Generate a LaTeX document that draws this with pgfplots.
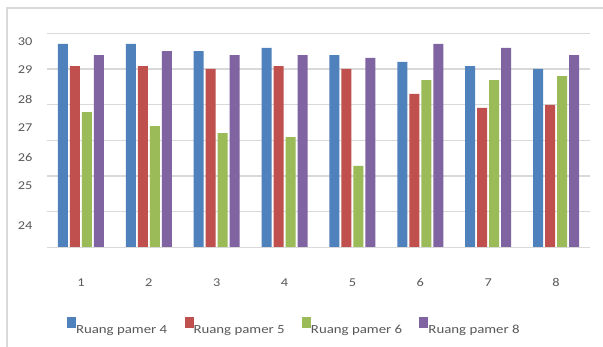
\documentclass[border=0pt]{standalone}
\usepackage{pgfplots}
\pgfplotsset{compat=1.18}
\usepackage{fontspec}
\setmainfont{Carlito}[FakeStretch=1.2]

\definecolor{rp4}{HTML}{4F81BD}
\definecolor{rp5}{HTML}{C0504D}
\definecolor{rp6}{HTML}{9BBB59}
\definecolor{rp8}{HTML}{8064A2}
\definecolor{gridgray}{HTML}{D9D9D9}
\definecolor{txtgray}{HTML}{595959}

\pgfplotsset{
  sq/.style={legend image code/.code={\fill (0bp,2bp) rectangle (9bp,13bp);}},
}

\begin{document}
\begin{tikzpicture}
\path[use as bounding box] (0,0) rectangle (603bp,347bp);
\fill[white] (0,0) rectangle (603bp,347bp);
\draw[gridgray, line width=1.2bp] (7bp,0) -- (7bp,339bp) -- (603bp,339bp);
\begin{axis}[
  at={(47bp,99.7bp)}, anchor=south west,
  scale only axis, width=543bp, height=214bp,
  xmin=0.5, xmax=8.5, ymin=24, ymax=30,
  axis line style={draw=none},
  major tick length=0pt,
  ytick={24,25,26,27,28,29,30}, yticklabels={},
  ymajorgrids, grid style={gridgray, line width=1.2bp},
  extra y ticks={29.76,28.99,28.15,27.35,26.53,25.73,24.61},
  extra y tick labels={30,29,28,27,26,25,24},
  extra y tick style={grid=none, yticklabel style={anchor=east, xshift=-11bp}},
  xtick={1,2,3,4,5,6,7,8},
  xticklabels={1,2,3,4,5,6,7,8},
  xticklabel style={yshift=-28bp},
  tick label style={font=\fontsize{12}{14}\selectfont, text=txtgray},
  legend columns=4,
  legend style={draw=none, fill=none, at={(0.031,-0.372)}, anchor=west,
    font=\fontsize{12.4}{14}\selectfont, text=txtgray,
    /tikz/every even column/.append style={column sep=15.3bp},
    /tikz/every odd column/.append style={column sep=-2bp}},
]
\addplot[ybar, fill=rp4, draw=none, bar width=0.147, bar shift=-0.265, sq]
  coordinates {(1,29.70) (2,29.70) (3,29.50) (4,29.59) (5,29.39) (6,29.20) (7,29.08) (8,29.00)};
\addplot[ybar, fill=rp5, draw=none, bar width=0.147, bar shift=-0.088, sq]
  coordinates {(1,29.08) (2,29.08) (3,29.00) (4,29.08) (5,29.00) (6,28.30) (7,27.91) (8,27.99)};
\addplot[ybar, fill=rp6, draw=none, bar width=0.147, bar shift=0.088, sq]
  coordinates {(1,27.79) (2,27.40) (3,27.20) (4,27.09) (5,26.28) (6,28.69) (7,28.69) (8,28.80)};
\addplot[ybar, fill=rp8, draw=none, bar width=0.147, bar shift=0.265, sq]
  coordinates {(1,29.39) (2,29.50) (3,29.39) (4,29.39) (5,29.31) (6,29.70) (7,29.59) (8,29.39)};
\legend{Ruang pamer 4, Ruang pamer 5, Ruang pamer 6, Ruang pamer 8}
% baseline drawn over the bar feet
\draw[gridgray, line width=1.5bp] (axis cs:0.5,24) -- (axis cs:8.5,24);
\end{axis}
\end{tikzpicture}
\end{document}
